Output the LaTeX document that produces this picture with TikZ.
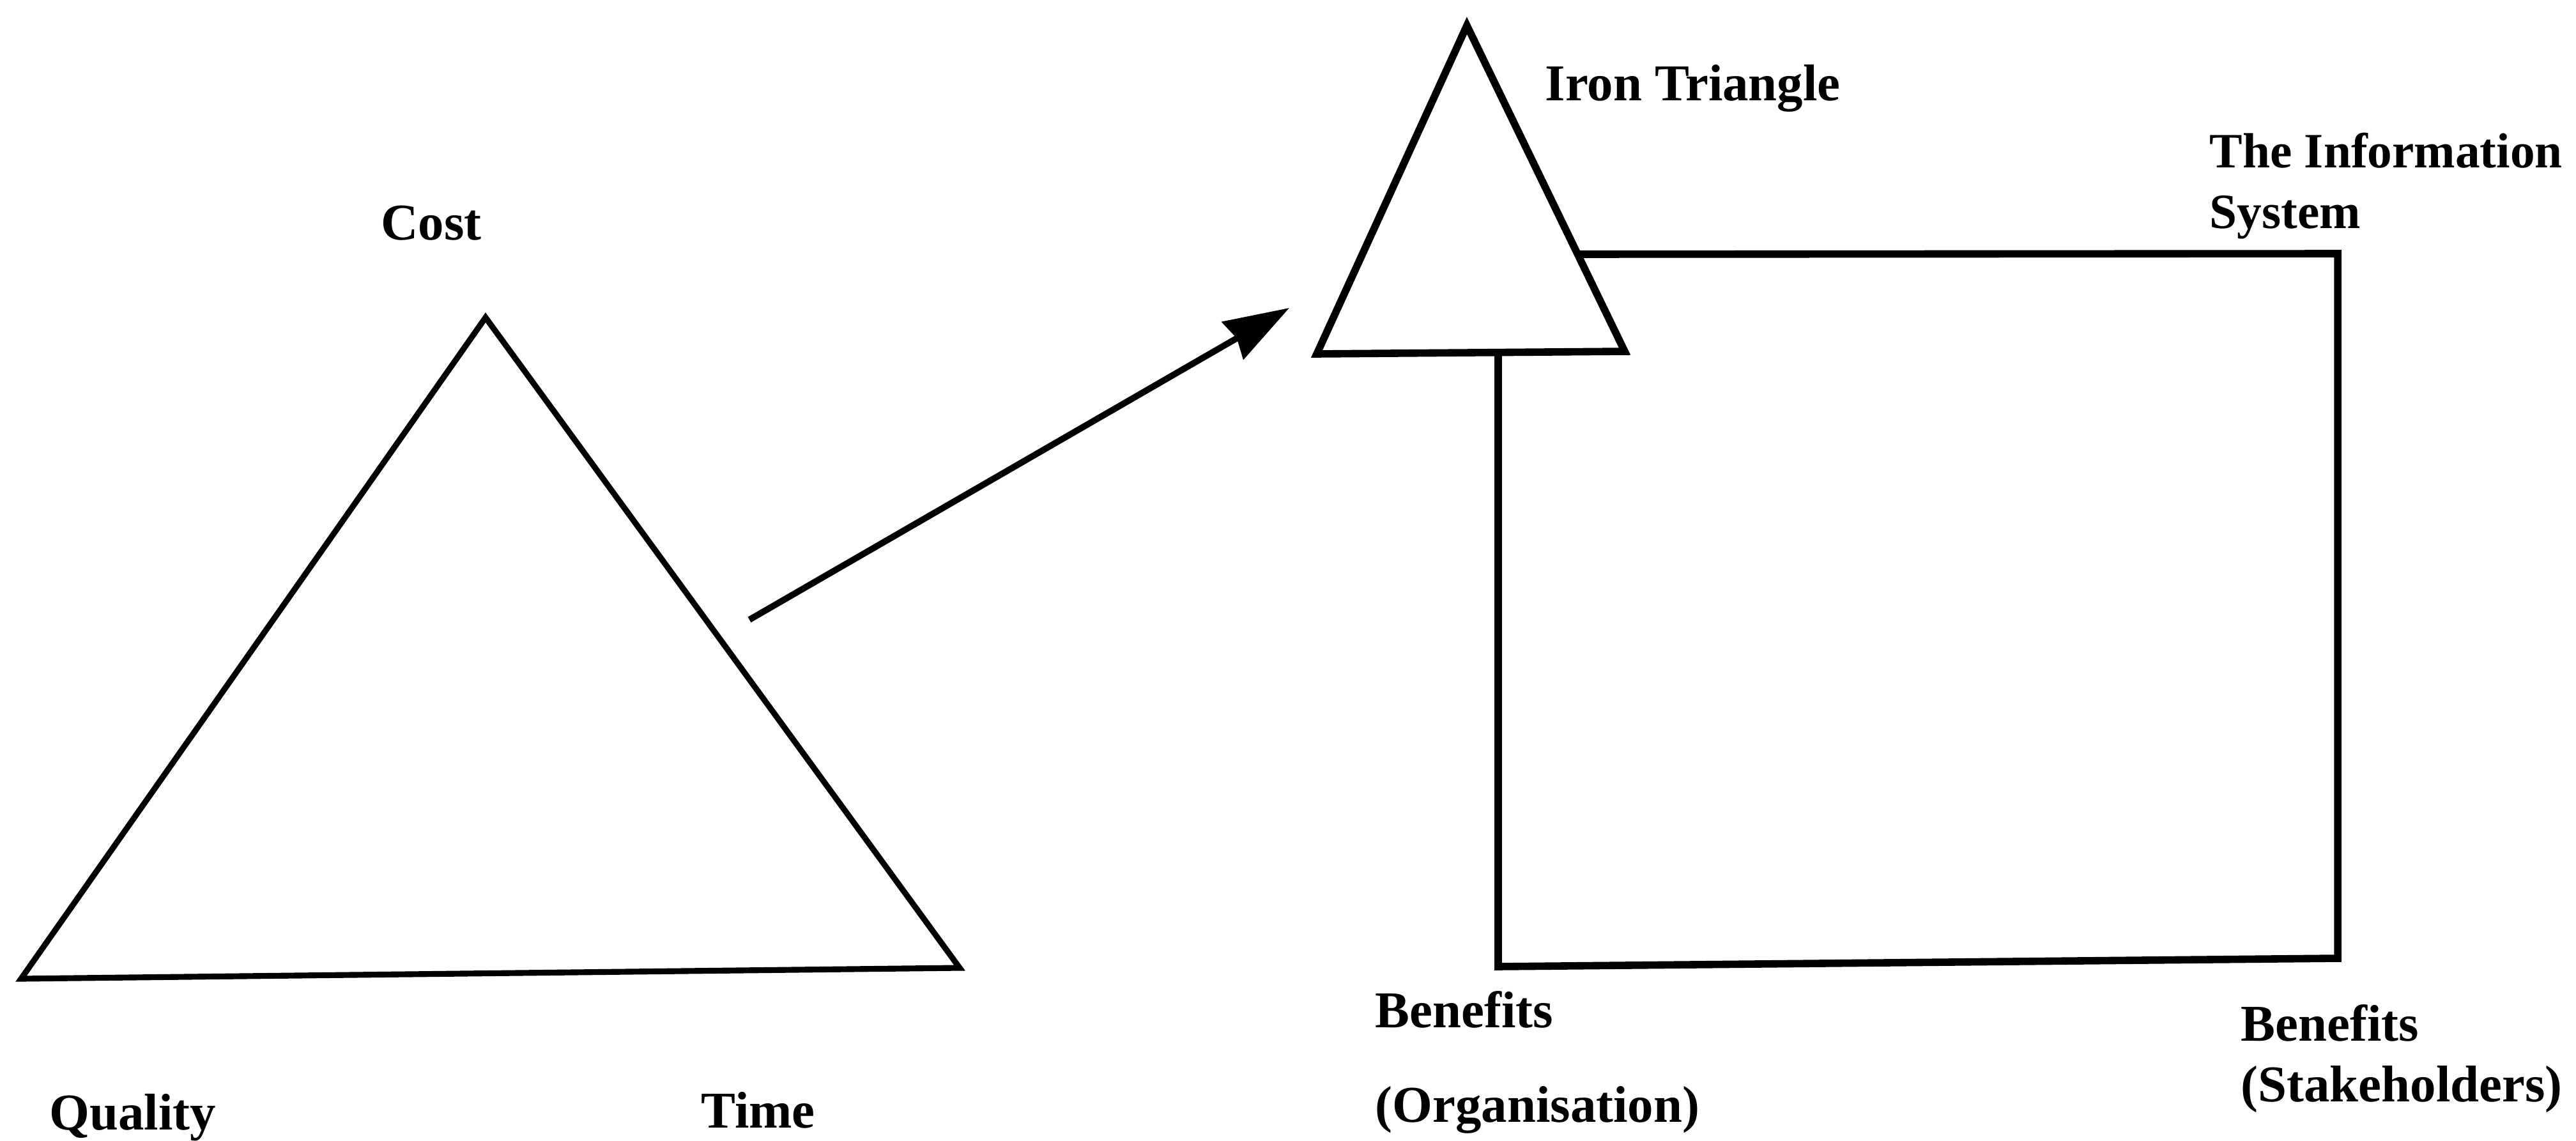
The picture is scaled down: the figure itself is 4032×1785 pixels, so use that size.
\documentclass[tikz,border=0pt]{standalone}
\usepackage{fontspec}
\setmainfont{Liberation Serif}
\usetikzlibrary{arrows.meta}
\tikzset{
    txt/.style={inner sep=0pt, font=\bfseries\fontsize{23}{27}\selectfont, align=left},
    triline/.style={line width=2.6pt, line join=miter},
    boxline/.style={line width=3.3pt, line join=miter},
    link/.style={-{Stealth[length=29pt, width=19pt, inset=2pt]}, line width=2.8pt}
}
\begin{document}
\begin{tikzpicture}[x=0.1mm, y=-0.1mm]
\useasboundingbox (0,0) rectangle (4032,1785);

\coordinate (cost) at (760,497);
\coordinate (quality) at (33,1532);
\coordinate (time) at (1502,1515);
\draw[triline] (cost) -- (quality) -- (time) -- cycle;

\node[txt, anchor=base] (costlbl) at (675,375) {Cost};
\node[txt, anchor=base west] (qualitylbl) at (77,1768) {Quality};
\node[txt, anchor=base west] (timelbl) at (1097,1765) {Time};

\coordinate (from) at (1173,970);
\coordinate (to) at (2018,482);
\draw[link] (from) -- (to);

\coordinate (irontop) at (2296,40);
\coordinate (ironleft) at (2061,554);
\coordinate (ironright) at (2543,550);
\draw[boxline] (irontop) -- (ironleft) -- (ironright) -- cycle;
\node[txt, anchor=base west] (ironlbl) at (2418,157) {Iron Triangle};

\coordinate (istl) at (2469,398);
\coordinate (istr) at (3659,397);
\coordinate (isbr) at (3659,1500);
\coordinate (isbl) at (2345,1513);
\coordinate (isjoin) at (2345,552);
\draw[boxline] (istl) -- (istr) -- (isbr) -- (isbl) -- (isjoin);
\node[txt, anchor=north west, font=\bfseries\fontsize{22}{27}\selectfont] (islbl) at (3458,207) {The Information\\System};

\node[txt, anchor=north west] (orglbl) at (2152,1551) {Benefits\\[15pt](Organisation)};
\node[txt, anchor=north west] (stakelbl) at (3507,1572) {Benefits\\(Stakeholders)};
\end{tikzpicture}
\end{document}
